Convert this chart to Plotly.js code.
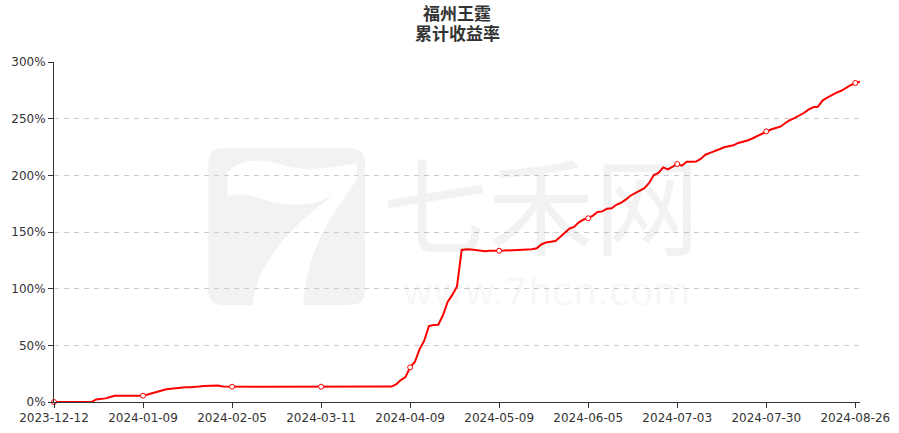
<!DOCTYPE html>
<html>
<head>
<meta charset="utf-8">
<script src="https://cdn.plot.ly/plotly-3.0.1.min.js"></script>
<style>html,body{margin:0;padding:0;background:#fff;}#chart{width:899px;height:433px;}</style>
</head>
<body>
<div id="chart"></div>
<script>
// ---------- data ----------
const chartTitle = '福州王霆';
const chartSubtitle = '累计收益率';

const dates = [
'2023-12-12','2023-12-13','2023-12-14','2023-12-15','2023-12-18','2023-12-19','2023-12-20','2023-12-21','2023-12-22',
'2023-12-25','2023-12-26','2023-12-27','2023-12-28','2023-12-29',
'2024-01-02','2024-01-03','2024-01-04','2024-01-05','2024-01-08','2024-01-09','2024-01-10','2024-01-11','2024-01-12',
'2024-01-15','2024-01-16','2024-01-17','2024-01-18','2024-01-19','2024-01-22','2024-01-23','2024-01-24','2024-01-25','2024-01-26',
'2024-01-29','2024-01-30','2024-01-31','2024-02-01','2024-02-02','2024-02-05','2024-02-06','2024-02-07','2024-02-08',
'2024-02-19','2024-02-20','2024-02-21','2024-02-22','2024-02-23','2024-02-26','2024-02-27','2024-02-28','2024-02-29','2024-03-01',
'2024-03-04','2024-03-05','2024-03-06','2024-03-07','2024-03-08','2024-03-11','2024-03-12','2024-03-13','2024-03-14','2024-03-15',
'2024-03-18','2024-03-19','2024-03-20','2024-03-21','2024-03-22','2024-03-25','2024-03-26','2024-03-27','2024-03-28','2024-03-29',
'2024-04-01','2024-04-02','2024-04-03','2024-04-08','2024-04-09','2024-04-10','2024-04-11','2024-04-12',
'2024-04-15','2024-04-16','2024-04-17','2024-04-18','2024-04-19','2024-04-22','2024-04-23','2024-04-24','2024-04-25','2024-04-26',
'2024-04-29','2024-04-30','2024-05-06','2024-05-07','2024-05-08','2024-05-09','2024-05-10',
'2024-05-13','2024-05-14','2024-05-15','2024-05-16','2024-05-17','2024-05-20','2024-05-21','2024-05-22','2024-05-23','2024-05-24',
'2024-05-27','2024-05-28','2024-05-29','2024-05-30','2024-05-31','2024-06-03','2024-06-04','2024-06-05','2024-06-06','2024-06-07',
'2024-06-11','2024-06-12','2024-06-13','2024-06-14','2024-06-17','2024-06-18','2024-06-19','2024-06-20','2024-06-21',
'2024-06-24','2024-06-25','2024-06-26','2024-06-27','2024-06-28','2024-07-01','2024-07-02','2024-07-03','2024-07-04','2024-07-05',
'2024-07-08','2024-07-09','2024-07-10','2024-07-11','2024-07-12','2024-07-15','2024-07-16','2024-07-17','2024-07-18','2024-07-19',
'2024-07-22','2024-07-23','2024-07-24','2024-07-25','2024-07-26','2024-07-29','2024-07-30','2024-07-31','2024-08-01','2024-08-02',
'2024-08-05','2024-08-06','2024-08-07','2024-08-08','2024-08-09','2024-08-12','2024-08-13','2024-08-14','2024-08-15','2024-08-16',
'2024-08-19','2024-08-20','2024-08-21','2024-08-22','2024-08-23','2024-08-26','2024-08-27'
];

// cumulative return, percent
const cumReturn = [
0,0,0,0,0,0,0,0,0,
2.3,2.8,3.2,4.4,5.5,
5.6,5.6,5.6,5.6,5.6,5.6,6.6,7.6,8.9,
10.2,11.3,11.8,12.1,12.7,13.0,13.1,13.2,13.6,14.1,
14.4,14.7,14.6,13.6,13.5,13.5,13.5,13.5,13.5,
13.5,13.5,13.5,13.5,13.5,13.5,13.5,13.5,13.5,13.5,
13.5,13.5,13.5,13.5,13.5,13.5,13.5,13.5,13.5,13.5,
13.5,13.5,13.5,13.5,13.5,13.5,13.5,13.5,13.5,13.5,
13.6,15.5,19.3,22.0,30.6,35.3,46.5,54.0,
67.0,68.0,68.2,76.5,88.2,94.5,102.0,134.2,134.7,134.5,
134.0,133.4,133.0,133.4,133.2,133.5,133.6,
133.8,133.9,134.0,134.1,134.3,134.8,135.6,139.0,140.8,141.6,
142.0,145.5,149.5,153.0,154.5,158.5,161.0,162.1,164.5,167.6,
168.2,170.6,170.9,174.0,175.8,178.5,182.0,184.0,186.5,
188.7,193.3,200.3,202.2,207.0,205.3,207.8,210.0,208.5,212.0,
212.0,212.2,214.5,218.2,219.8,221.2,223.0,224.8,225.8,226.5,
228.6,229.4,230.8,232.5,234.6,236.5,238.8,240.4,241.7,242.9,
246.0,248.6,250.4,252.5,255.0,258.0,260.0,260.5,266.0,268.5,
271.0,273.0,274.6,277.2,279.5,281.5,282.6
];

const tickDates = ['2023-12-12','2024-01-09','2024-02-05','2024-03-11','2024-04-09','2024-05-09','2024-06-05','2024-07-03','2024-07-30','2024-08-26'];
const yTicks = [0,50,100,150,200,250,300];

// ---------- watermark geometry helpers (style only) ----------
const PL = 54, PB = 402, PW = 806, PH = 340;
function zp(xz, yz){ const X = 200 + xz/3, Y = 140 + yz/3; return ((X-PL)/PW).toFixed(5)+','+((PB-Y)/PH).toFixed(5); }
function mapPath(s){ return s.replace(/(-?\d+\.?\d*),(-?\d+\.?\d*)/g, (m,a,b)=>zp(+a,+b)); }
const logoBox = mapPath('M70,25 L450,25 Q495,25 495,70 L495,450 Q495,495 450,495 L70,495 Q25,495 25,450 L25,70 Q25,25 70,25 Z');
const logoSeven = mapPath('M82,100 C110,60 170,50 250,75 C330,100 400,80 470,70 L470,120 C400,220 320,320 310,495 L158,495 C170,380 250,270 430,145 C350,210 250,200 180,175 C130,158 100,160 82,172 Z');

// ---------- traces ----------
const lineTrace = {
  x: dates, y: cumReturn, type: 'scatter', mode: 'lines',
  line: {color: '#ff0000', width: 2}, hoverinfo: 'x+y', showlegend: false
};
const mx = tickDates.filter(d => dates.indexOf(d) >= 0);
const my = mx.map(d => cumReturn[dates.indexOf(d)]);
const markerTrace = {
  x: mx, y: my, type: 'scatter', mode: 'markers', cliponaxis: false,
  marker: {symbol: 'circle', size: 5, color: '#ffffff', line: {color: '#ff0000', width: 1}},
  showlegend: false, hoverinfo: 'skip'
};

const tickFont = {family: 'DejaVu Sans, sans-serif', size: 12, color: '#333333'};
const titleFont = {family: 'Noto Sans CJK SC, sans-serif', size: 17, color: '#333333', weight: 'bold'};

const layout = {
  width: 899, height: 433,
  margin: {l: 54, r: 39, t: 62, b: 31, pad: 0},
  paper_bgcolor: '#ffffff', plot_bgcolor: 'rgba(0,0,0,0)',
  showlegend: false,
  title: {
    text: chartTitle, x: 0.5, xref: 'paper', xanchor: 'center',
    y: 1 - 14/433, yref: 'container', yanchor: 'middle', font: titleFont
  },
  xaxis: {
    type: 'category', range: [0, dates.length - 1],
    tickvals: tickDates, ticktext: tickDates,
    showline: true, linecolor: '#333333', linewidth: 1,
    ticks: 'outside', ticklen: 5, tickcolor: '#333333', tickwidth: 1,
    showgrid: false, zeroline: false, tickfont: tickFont, fixedrange: true
  },
  yaxis: {
    range: [0, 300], tickvals: yTicks, ticktext: yTicks.map(v => v + '%'),
    showline: true, linecolor: '#333333', linewidth: 1,
    ticks: 'outside', ticklen: 5, tickcolor: '#333333', tickwidth: 1,
    showgrid: true, gridcolor: '#cccccc', gridwidth: 1, griddash: '5px,5px',
    zeroline: false, tickfont: tickFont, fixedrange: true
  },
  shapes: [
    {type: 'path', xref: 'paper', yref: 'paper', path: logoBox, fillcolor: '#f2f2f2', line: {width: 0}, layer: 'below'},
    {type: 'path', xref: 'paper', yref: 'paper', path: logoSeven, fillcolor: '#ffffff', line: {width: 0}, layer: 'below'}
  ],
  annotations: [
    {text: chartSubtitle, xref: 'paper', yref: 'paper', x: 0.5, y: (PB-32)/PH, xanchor: 'center', yanchor: 'middle',
     showarrow: false, font: titleFont},
    {text: '七禾网', xref: 'paper', yref: 'paper', x: (541-PL)/PW, y: (PB-201)/PH, xanchor: 'center', yanchor: 'middle',
     showarrow: false, font: {family: 'Noto Sans CJK SC, sans-serif', size: 106, color: 'rgba(0,0,0,0.05)'}},
    {text: 'www.7hcn.com', xref: 'paper', yref: 'paper', x: (546-PL)/PW, y: (PB-292)/PH, xanchor: 'center', yanchor: 'middle',
     showarrow: false, font: {family: 'DejaVu Sans, sans-serif', size: 38, color: 'rgba(0,0,0,0.05)'}}
  ]
};

Plotly.newPlot('chart', [lineTrace, markerTrace], layout, {displayModeBar: false, staticPlot: true});
</script>
</body>
</html>
